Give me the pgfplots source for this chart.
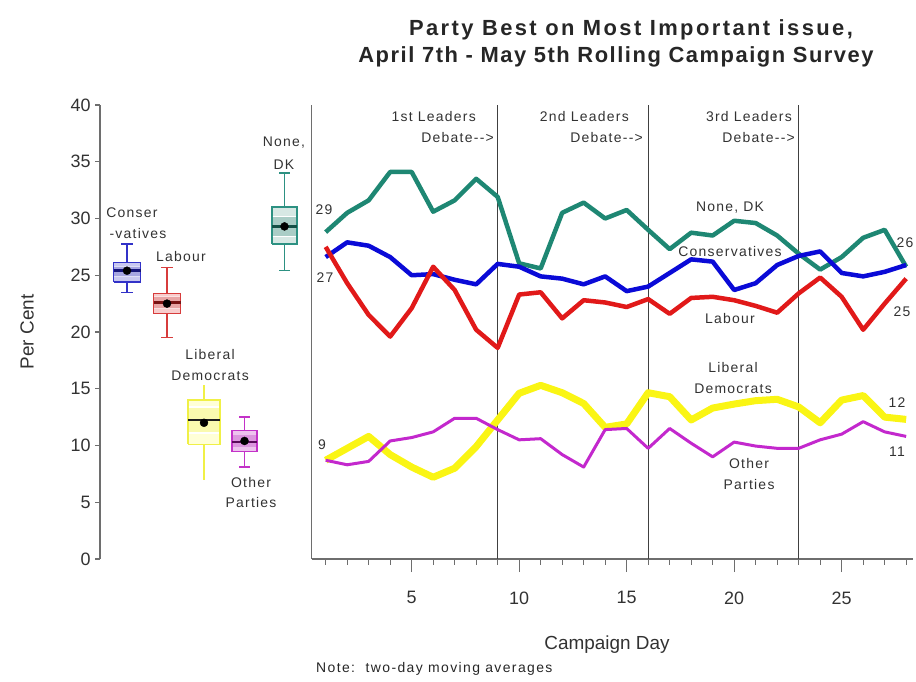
\documentclass[border=0pt]{standalone}
\usepackage{pgfplots}
\pgfplotsset{compat=1.18}
\usepackage{pgfplotstable}
\usepackage{fontspec}
\setmainfont{Liberation Sans}
\newfontfamily\labfont[LetterSpace=9]{Liberation Sans}
\newfontfamily\titlefont[LetterSpace=7]{Liberation Sans}
\newfontfamily\titleonefont[LetterSpace=11]{Liberation Sans}
\newfontfamily\notefont[LetterSpace=10]{Liberation Sans}

\definecolor{txt}{RGB}{50,50,50}
\definecolor{axgray}{RGB}{110,110,110}
\definecolor{cndk}{RGB}{30,135,115}
\definecolor{ccon}{RGB}{10,10,215}
\definecolor{clab}{RGB}{225,25,25}
\definecolor{clib}{RGB}{250,245,20}
\definecolor{coth}{RGB}{195,40,205}
% box colours
\definecolor{bconL}{RGB}{200,200,240}\definecolor{bconB}{RGB}{165,165,225}\definecolor{bconD}{RGB}{20,20,120}
\definecolor{blabL}{RGB}{248,205,205}\definecolor{blabB}{RGB}{232,165,165}\definecolor{blabD}{RGB}{120,20,20}
\definecolor{bndkL}{RGB}{215,232,228}\definecolor{bndkB}{RGB}{170,205,198}\definecolor{bndkD}{RGB}{20,80,70}
\definecolor{blibL}{RGB}{255,255,215}\definecolor{blibB}{RGB}{250,250,175}\definecolor{blibD}{RGB}{30,30,30}
\definecolor{bothL}{RGB}{238,195,238}\definecolor{bothB}{RGB}{220,150,222}\definecolor{bothD}{RGB}{90,10,90}
\definecolor{bcon}{RGB}{50,50,200}
\definecolor{blab}{RGB}{215,60,60}
\definecolor{bndk}{RGB}{45,145,130}
\definecolor{blib}{RGB}{240,240,70}
\definecolor{both}{RGB}{195,50,200}

\pgfplotstableread{
day con lab ndk lib oth
1 26.6 27.5 28.8 8.7 8.7
2 27.9 24.3 30.5 9.75 8.3
3 27.6 21.5 31.6 10.8 8.6
4 26.6 19.6 34.1 9.2 10.4
5 25.0 22.1 34.1 8.1 10.7
6 25.1 25.75 30.6 7.2 11.2
7 24.6 23.7 31.6 8.0 12.4
8 24.2 20.2 33.5 9.9 12.4
9 26.0 18.6 31.9 12.25 11.4
10 25.75 23.3 26.05 14.6 10.5
11 24.9 23.5 25.6 15.3 10.6
12 24.7 21.2 30.5 14.65 9.2
13 24.2 22.8 31.4 13.7 8.1
14 24.9 22.6 30.0 11.6 11.4
15 23.6 22.2 30.75 11.9 11.5
16 24.0 22.9 29.0 14.65 9.75
17 25.2 21.6 27.3 14.3 11.5
18 26.4 23.0 28.75 12.25 10.2
19 26.2 23.1 28.5 13.3 9.0
20 23.7 22.8 29.8 13.65 10.3
21 24.3 22.3 29.6 13.95 9.95
22 25.9 21.7 28.5 14.07 9.75
23 26.7 23.4 26.9 13.4 9.75
24 27.1 24.8 25.5 12.0 10.5
25 25.2 23.1 26.6 14.0 11.0
26 24.9 20.2 28.3 14.4 12.1
27 25.3 22.5 29.0 12.5 11.2
28 25.9 24.7 25.75 12.3 10.8
}\campaign

\begin{document}
\begin{tikzpicture}[x=1bp,y=1bp]
\useasboundingbox (0bp,0bp) rectangle (916bp,682bp);

% ---------------- left panel: box plots ----------------
\begin{axis}[
  at={(100bp,123bp)}, anchor=south west,
  width=211bp, height=454bp, scale only axis,
  xmin=100, xmax=311, ymin=0, ymax=40,
  axis x line=none, axis y line=left,
  y axis line style={-, draw=axgray, line width=1.3bp},
  ytick={0,5,...,40},
  tick align=outside, major tick length=5bp,
  every tick/.style={draw=axgray, line width=1.2bp},
  /pgf/number format/assume math mode=true,
  y tick label style={font=\fontsize{18}{20}\selectfont, text=txt, xshift=-1bp},
  clip=false,
]
% ---- Conservatives (x = 127)
\addplot[bcon, line width=1.3bp] coordinates {(127,23.5) (127,27.75)};
\addplot[bcon, line width=1.3bp] coordinates {(121,27.75) (133,27.75)};
\addplot[bcon, line width=1.3bp] coordinates {(121,23.5) (133,23.5)};
\addplot[draw=bcon, fill=bconL, line width=1.3bp] coordinates {(113.5,24.4) (140.5,24.4) (140.5,26.1) (113.5,26.1) (113.5,24.4)};
\addplot[draw=none, fill=bconB] coordinates {(114.2,24.9) (139.8,24.9) (139.8,25.75) (114.2,25.75)};
\addplot[bconL!60!white, line width=1bp] coordinates {(114.2,24.9) (139.8,24.9)};
\addplot[bconL!60!white, line width=1bp] coordinates {(114.2,25.75) (139.8,25.75)};
\addplot[bconD, line width=2.5bp] coordinates {(113.5,25.4) (140.5,25.4)};
\addplot[only marks, mark=*, mark size=4bp, black] coordinates {(127,25.4)};
% ---- Labour (x = 167)
\addplot[blab, line width=1.3bp] coordinates {(167,19.5) (167,25.7)};
\addplot[blab, line width=1.3bp] coordinates {(161,25.7) (173,25.7)};
\addplot[blab, line width=1.3bp] coordinates {(161,19.5) (173,19.5)};
\addplot[draw=blab, fill=blabL, line width=1.3bp] coordinates {(153.5,21.6) (180.5,21.6) (180.5,23.4) (153.5,23.4) (153.5,21.6)};
\addplot[draw=none, fill=blabB] coordinates {(154.2,22.1) (179.8,22.1) (179.8,23.1) (154.2,23.1)};
\addplot[blabL!60!white, line width=1bp] coordinates {(154.2,22.1) (179.8,22.1)};
\addplot[blabL!60!white, line width=1bp] coordinates {(154.2,23.1) (179.8,23.1)};
\addplot[blabD, line width=2.5bp] coordinates {(153.5,22.6) (180.5,22.6)};
\addplot[only marks, mark=*, mark size=4bp, black] coordinates {(167,22.5)};
% ---- Liberal Democrats (x = 204)
\addplot[blib, line width=1.3bp] coordinates {(204,7.0) (204,15.3)};
\addplot[draw=blib, fill=blibL, line width=1.3bp] coordinates {(188,10.1) (220,10.1) (220,14.0) (188,14.0) (188,10.1)};
\addplot[draw=none, fill=blibB] coordinates {(188.7,11.1) (219.3,11.1) (219.3,13.4) (188.7,13.4)};
\addplot[white, line width=1.2bp] coordinates {(188.7,11.1) (219.3,11.1)};
\addplot[white, line width=1.2bp] coordinates {(188.7,13.4) (219.3,13.4)};
\addplot[blibD, line width=2.5bp] coordinates {(188,12.25) (220,12.25)};
\addplot[only marks, mark=*, mark size=4bp, black] coordinates {(204,12.0)};
% ---- Other parties (x = 244.5)
\addplot[both, line width=1.3bp] coordinates {(244.5,8.1) (244.5,12.5)};
\addplot[both, line width=1.3bp] coordinates {(239,12.5) (250,12.5)};
\addplot[both, line width=1.3bp] coordinates {(239,8.1) (250,8.1)};
\addplot[draw=both, fill=bothL, line width=1.3bp] coordinates {(232,9.45) (257,9.45) (257,11.3) (232,11.3) (232,9.45)};
\addplot[draw=none, fill=bothB] coordinates {(232.7,9.9) (256.3,9.9) (256.3,10.9) (232.7,10.9)};
\addplot[bothD, line width=2.5bp] coordinates {(232,10.3) (257,10.3)};
\addplot[only marks, mark=*, mark size=4bp, black] coordinates {(244.5,10.4)};
% ---- None, DK (x = 284.5)
\addplot[bndk, line width=1.3bp] coordinates {(284.5,25.4) (284.5,34.0)};
\addplot[bndk, line width=1.3bp] coordinates {(279,34.0) (290,34.0)};
\addplot[bndk, line width=1.3bp] coordinates {(279,25.4) (290,25.4)};
\addplot[draw=bndk, fill=bndkL, line width=1.3bp] coordinates {(272,27.75) (297,27.75) (297,31.0) (272,31.0) (272,27.75)};
\addplot[draw=none, fill=bndkB] coordinates {(272.7,28.4) (296.3,28.4) (296.3,30.2) (272.7,30.2)};
\addplot[white, line width=1.2bp] coordinates {(272.7,28.4) (296.3,28.4)};
\addplot[white, line width=1.2bp] coordinates {(272.7,30.2) (296.3,30.2)};
\addplot[bndkD, line width=2.5bp] coordinates {(272,29.3) (297,29.3)};
\addplot[only marks, mark=*, mark size=4bp, black] coordinates {(284.5,29.3)};
\end{axis}

% ---------------- right panel: rolling lines ----------------
\begin{axis}[
  at={(311.7bp,123bp)}, anchor=south west,
  width=600.9bp, height=454bp, scale only axis,
  xmin=0.35, xmax=28.3, ymin=0, ymax=40,
  axis x line=bottom, axis y line=left,
  axis line style={-, draw=axgray, line width=1.3bp},
  ytick=\empty,
  xtick={5,10,...,25}, minor xtick={1,...,28},
  tick align=outside, major tick length=13bp, minor tick length=6bp,
  every tick/.style={draw=axgray, line width=1.1bp},
  /pgf/number format/assume math mode=true,
  x tick label style={font=\fontsize{18}{20}\selectfont, text=txt, yshift=-16bp},
  clip=false,
]
\addplot[black!75, line width=1.2bp] coordinates {(9,0) (9,40)};
\addplot[black!75, line width=1.2bp] coordinates {(16,0) (16,40)};
\addplot[black!75, line width=1.2bp] coordinates {(23,0) (23,40)};
\addplot[clib, line width=7bp, line join=round] table[x=day, y=lib] \campaign;
\addplot[cndk, line width=4.5bp, line join=round] table[x=day, y=ndk] \campaign;
\addplot[ccon, line width=4.5bp, line join=round] table[x=day, y=con] \campaign;
\addplot[clab, line width=4.5bp, line join=round] table[x=day, y=lab] \campaign;
\addplot[coth, line width=3bp, line join=round] table[x=day, y=oth] \campaign;
\end{axis}

% ---------------- texts ----------------
\node[font=\titleonefont\bfseries\fontsize{22}{27}\selectfont, text=black!85] at (631bp,652bp)
  {Party Best on Most Important issue,};
\node[font=\titlefont\bfseries\fontsize{22}{27}\selectfont, text=black!85] at (616bp,625bp)
  {April 7th - May 5th Rolling Campaign Survey};
\node[font=\fontsize{19}{22}\selectfont, text=txt, rotate=90] at (27bp,350bp) {Per Cent};
\node[font=\fontsize{19}{22}\selectfont, text=txt] at (607bp,37bp) {Campaign Day};
\node[font=\notefont\fontsize{14}{16}\selectfont, text=black!85, anchor=west, inner sep=0pt] at (316bp,13bp) {Note:\ \ two-day moving averages};

\begin{scope}[every node/.style={font=\labfont\fontsize{14}{16}\selectfont, text=txt, inner sep=0pt}]
% box labels
\node at (132bp,469bp) {Conser};
\node at (138bp,448bp) {-vatives};
\node at (181bp,425bp) {Labour};
\node at (284bp,539bp) {None,};
\node at (284bp,517bp) {DK};
\node at (210bp,327bp) {Liberal};
\node at (210bp,306bp) {Democrats};
\node at (251bp,199bp) {Other};
\node at (251bp,179bp) {Parties};
% debate labels
\node[anchor=east] at (476bp,565bp) {1st Leaders};
\node[anchor=east] at (494bp,544bp) {Debate-{}-{}>};
\node[anchor=east] at (629bp,565bp) {2nd Leaders};
\node[anchor=east] at (643bp,544bp) {Debate-{}-{}>};
\node[anchor=east] at (792bp,565bp) {3rd Leaders};
\node[anchor=east] at (795bp,544bp) {Debate-{}-{}>};
% series labels
\node at (730bp,474bp) {None, DK};
\node at (730bp,430bp) {Conservatives};
\node at (730bp,363bp) {Labour};
\node at (733bp,314bp) {Liberal};
\node at (733bp,293bp) {Democrats};
\node at (749bp,218bp) {Other};
\node at (749bp,197bp) {Parties};
% end values
\node at (324bp,472bp) {29};
\node at (325bp,404bp) {27};
\node at (322bp,237bp) {9};
\node at (905bp,439bp) {26};
\node at (902bp,370bp) {25};
\node at (897bp,279bp) {12};
\node at (897bp,230bp) {11};
\end{scope}
\end{tikzpicture}
\end{document}
